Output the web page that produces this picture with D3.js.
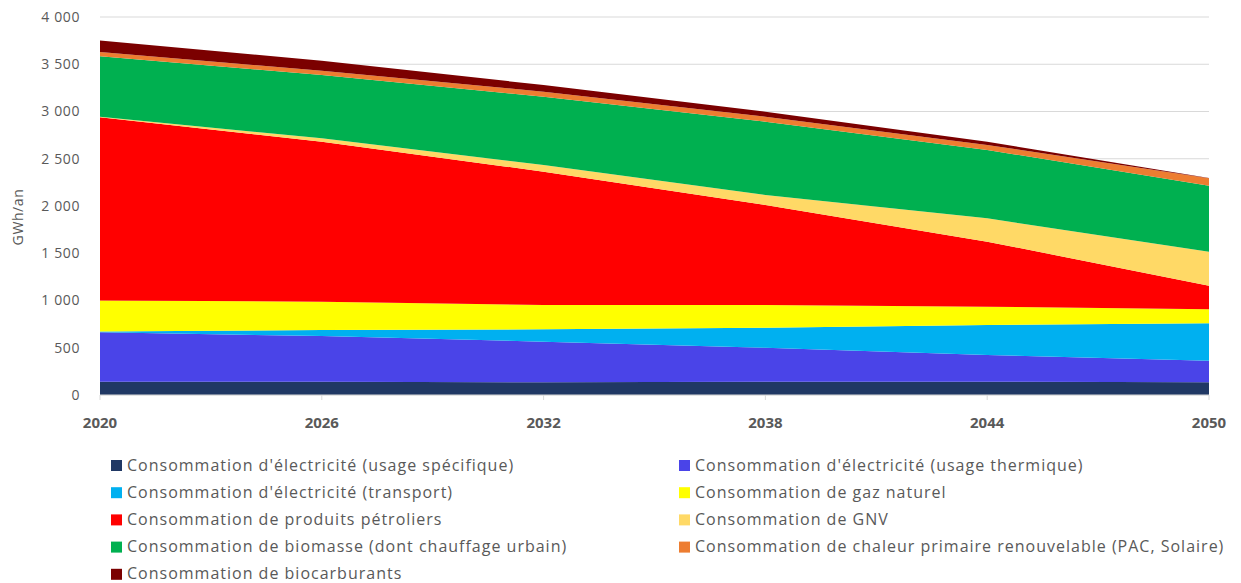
<!DOCTYPE html>
<html>
<head>
<meta charset="utf-8">
<script src="https://cdn.jsdelivr.net/npm/d3@7"></script>
<style>
  body { margin: 0; background: #fff; overflow: hidden; }
  text { font-family: "Open Sans", "Liberation Sans", sans-serif; fill: #595959; }
</style>
</head>
<body>
<div class="chart"></div>
<script>
// Years and series (GWh/an)
const years = [2020, 2026, 2032, 2038, 2044, 2050];
const elecSpecifique = [141, 141, 135, 140, 140, 134];
const elecThermique = [522, 483, 429, 360, 283, 229];
const elecTransport = [8, 64, 131, 212, 318, 396];
const gazNaturel = [330, 299, 257, 240, 193, 148];
const produitsPetroliers = [1938, 1694, 1411, 1059, 689, 250];
const gnv = [5, 35, 71, 105, 247, 359];
const biomasse = [640, 670, 723, 776, 723, 699];
const chaleurRenouvelable = [45, 46, 53, 53, 53, 78];
const biocarburants = [123, 106, 70, 53, 34, 3];
const yTicks = [0, 500, 1000, 1500, 2000, 2500, 3000, 3500, 4000];
const xTicks = [2020, 2026, 2032, 2038, 2044, 2050];

const seriesInfo = [
  { key: 'spec', label: "Consommation d'électricité (usage spécifique)", values: elecSpecifique, color: '#203864' },
  { key: 'therm', label: "Consommation d'électricité (usage thermique)", values: elecThermique, color: '#4a44e8' },
  { key: 'transp', label: "Consommation d'électricité (transport)", values: elecTransport, color: '#00b0f0' },
  { key: 'gaz', label: 'Consommation de gaz naturel', values: gazNaturel, color: '#ffff00' },
  { key: 'petrole', label: 'Consommation de produits pétroliers', values: produitsPetroliers, color: '#ff0000' },
  { key: 'gnv', label: 'Consommation de GNV', values: gnv, color: '#ffd966' },
  { key: 'biomasse', label: 'Consommation de biomasse (dont chauffage urbain)', values: biomasse, color: '#00b050' },
  { key: 'chaleur', label: 'Consommation de chaleur primaire renouvelable (PAC, Solaire)', values: chaleurRenouvelable, color: '#ed7d31' },
  { key: 'biocarb', label: 'Consommation de biocarburants', values: biocarburants, color: '#7b0000' }
];

const outerWidth = 1241;
const outerHeight = 583;
const margin = { top: 17, right: 32, bottom: 188, left: 100 };
const innerWidth = outerWidth - margin.left - margin.right;
const innerHeight = outerHeight - margin.top - margin.bottom;

const svg = d3.select('.chart')
  .append('svg')
    .attr('width', outerWidth)
    .attr('height', outerHeight)
    .style('display', 'block');

// scales work in page coordinates so texts need no group offset
const x = d3.scaleLinear().domain([2020, 2050]).range([margin.left, margin.left + innerWidth]);
const y = d3.scaleLinear().domain([0, 4000]).range([margin.top + innerHeight, margin.top]);

// Build table rows for d3.stack
const rows = years.map((yr, i) => {
  const row = { year: yr };
  seriesInfo.forEach(s => { row[s.key] = s.values[i]; });
  return row;
});

const stacked = d3.stack().keys(seriesInfo.map(s => s.key))(rows);

// gridlines
svg.selectAll('.grid')
  .data(yTicks)
  .enter().append('line')
    .attr('x1', x(2020))
    .attr('x2', x(2050))
    .attr('y1', d => y(d))
    .attr('y2', d => y(d))
    .attr('stroke', '#d9d9d9')
    .attr('stroke-width', 1);

const area = d3.area()
  .x(d => x(d.data.year))
  .y0(d => y(d[0]))
  .y1(d => y(d[1]));

svg.selectAll('.layer')
  .data(stacked)
  .enter().append('path')
    .attr('fill', (d, i) => seriesInfo[i].color)
    .attr('d', area);

// y axis labels
const fmt = d => d3.format(',')(d).replace(',', ' ');
svg.selectAll('.ylab')
  .data(yTicks)
  .enter().append('text')
    .attr('x', x(2020) - 20)
    .attr('y', d => y(d))
    .attr('dy', '0.35em')
    .attr('text-anchor', 'end')
    .style('font-size', '14px')
    .style('letter-spacing', '0.6px')
    .text(fmt);

svg.append('text')
  .attr('x', 23)
  .attr('y', 217)
  .attr('transform', 'rotate(-90, 23, 217)')
  .attr('text-anchor', 'middle')
  .style('font-size', '14px')
  .style('letter-spacing', '0.6px')
  .text('GWh/an');

// x axis
svg.append('line')
  .attr('x1', x(2020)).attr('x2', x(2050))
  .attr('y1', y(0)).attr('y2', y(0))
  .attr('stroke', '#d9d9d9');

svg.selectAll('.xtick')
  .data(xTicks)
  .enter().append('line')
    .attr('x1', d => x(d)).attr('x2', d => x(d))
    .attr('y1', y(0)).attr('y2', y(0) + 5)
    .attr('stroke', '#d9d9d9');

svg.selectAll('.xlab')
  .data(xTicks)
  .enter().append('text')
    .attr('x', d => x(d))
    .attr('y', y(0) + 33)
    .attr('text-anchor', 'middle')
    .style('font-size', '15px')
    .style('font-weight', 'bold')
    .text(d => d);

// legend, two columns filled row by row
const legendItem = svg.selectAll('.legend')
  .data(seriesInfo)
  .enter().append('g')
    .attr('transform', (d, i) => `translate(${i % 2 === 0 ? 111 : 679},${465 + Math.floor(i / 2) * 27.2})`);

legendItem.append('rect')
  .attr('x', 0).attr('y', -5)
  .attr('width', 11).attr('height', 11)
  .attr('fill', d => d.color);

legendItem.append('text')
  .attr('x', 16)
  .attr('y', 0)
  .attr('dy', '0.35em')
  .style('font-size', '16px')
  .style('letter-spacing', '1px')
  .text(d => d.label);
</script>
</body>
</html>
